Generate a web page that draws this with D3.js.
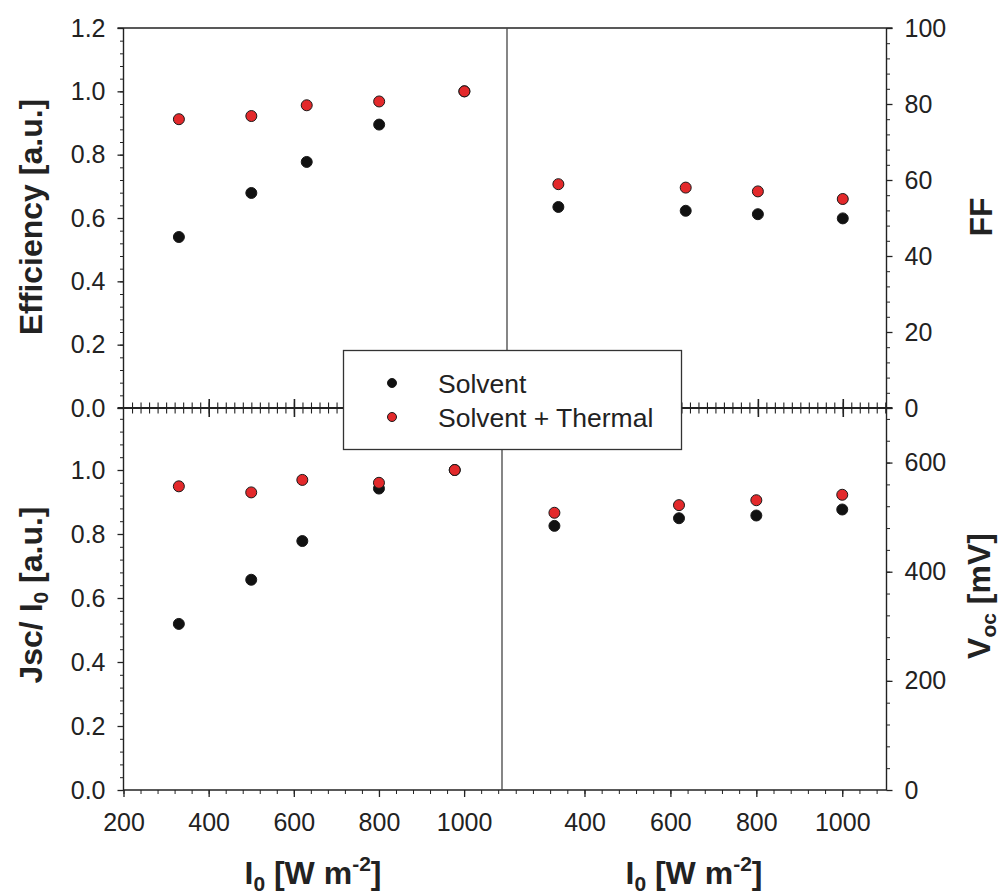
<!DOCTYPE html>
<html>
<head>
<meta charset="utf-8">
<script src="https://cdn.jsdelivr.net/npm/d3@7"></script>
<style>
  html, body { margin: 0; padding: 0; background: #fff; }
  svg { display: block; font-family: Arial, "Liberation Sans", Helvetica, sans-serif; }
</style>
</head>
<body>
<svg id="chart" width="1001" height="894"></svg>
<script>
// ---------- data ----------
const irrEff = [330, 500, 630, 800, 1000];
const effSolvent = [0.540, 0.679, 0.777, 0.895, 1.0];
const effThermal = [0.912, 0.922, 0.956, 0.968, 1.0];

const irrFF = [330, 630, 800, 1000];
const ffSolvent = [52.9, 51.9, 51.0, 49.9];
const ffThermal = [58.9, 58.0, 57.0, 55.0];

const irrJsc = [330, 500, 620, 800, 978];
const jscSolvent = [0.519, 0.657, 0.778, 0.942, 1.0];
const jscThermal = [0.949, 0.930, 0.969, 0.960, 1.0];

const irrVoc = [330, 620, 800, 1000];
const vocSolvent = [484, 498, 503, 514];
const vocThermal = [508, 522, 531, 541];

const xTickLabelsLeft = [200, 400, 600, 800, 1000];
const xTickLabelsRight = [400, 600, 800, 1000];
const effTicks = [0, 0.2, 0.4, 0.6, 0.8, 1.0, 1.2];
const jscTicks = [0, 0.2, 0.4, 0.6, 0.8, 1.0];
const ffTicks = [0, 20, 40, 60, 80, 100];
const vocTicks = [0, 200, 400, 600];
const seriesNames = ["Solvent", "Solvent + Thermal"];
const seriesColors = ["#111111", "#e3292b"];

// ---------- layout ----------
const L = 123.5, R = 886.5, T = 28, M = 408, B = 790;
const divTop = 507, divBot = 502;
const ink = "#222";
const tickFont = 25;

const svg = d3.select("#chart");

// scales
const xTL = d3.scaleLinear().domain([200, 1100]).range([L, divTop]);
const xTR = d3.scaleLinear().domain([209, 1103]).range([divTop, R]);
const xBL = d3.scaleLinear().domain([200, 1089]).range([L, divBot]);
const xBR = d3.scaleLinear().domain([208, 1103]).range([divBot, R]);
const yEff = d3.scaleLinear().domain([0, 1.2]).range([M, T]);
const yFF = d3.scaleLinear().domain([0, 100]).range([M, T]);
const yJsc = d3.scaleLinear().domain([0, 1.2]).range([B, 406]);
const yVoc = d3.scaleLinear().domain([0, 700]).range([B, M]);

function range(a, b, s) { const r = []; for (let v = a; v <= b + 1e-9; v += s) r.push(+v.toFixed(6)); return r; }

function styleAxis(g, w) {
  g.select(".domain").remove();
  g.selectAll(".tick line").attr("stroke", ink).attr("stroke-width", w || 1.2);
  g.selectAll(".tick text").attr("fill", ink).attr("font-size", tickFont)
    .attr("font-family", "Arial, 'Liberation Sans', sans-serif");
}

// ---- left y axes ----
function leftAxis(scale, majors, minorMax) {
  const gMin = svg.append("g").attr("transform", `translate(${L},0)`)
    .call(d3.axisLeft(scale).tickValues(range(0, minorMax, 0.04)).tickSize(3.5).tickFormat(""));
  styleAxis(gMin, 1);
  const g = svg.append("g").attr("transform", `translate(${L},0)`)
    .call(d3.axisLeft(scale).tickValues(majors).tickSize(6).tickPadding(12).tickFormat(d3.format(".1f")));
  styleAxis(g, 1.3);
}
leftAxis(yEff, effTicks, 1.2);
leftAxis(yJsc, jscTicks, 1.16);

// ---- right y axes ----
function rightAxis(scale, majors, minorStep, minorMax) {
  const gMin = svg.append("g").attr("transform", `translate(${R},0)`)
    .call(d3.axisRight(scale).tickValues(range(0, minorMax, minorStep)).tickSize(3.5).tickFormat(""));
  styleAxis(gMin, 1);
  const g = svg.append("g").attr("transform", `translate(${R},0)`)
    .call(d3.axisRight(scale).tickValues(majors).tickSize(6).tickPadding(12).tickFormat(d3.format("d")));
  styleAxis(g, 1.3);
}
rightAxis(yFF, ffTicks, 4, 100);
rightAxis(yVoc, vocTicks, 40, 680);

// ---- bottom x axes ----
function bottomAxis(scale, labels, lo, hi) {
  const gMin = svg.append("g").attr("transform", `translate(0,${B})`)
    .call(d3.axisBottom(scale).tickValues(range(lo, hi, 40)).tickSize(4).tickFormat(""));
  styleAxis(gMin, 1);
  const g = svg.append("g").attr("transform", `translate(0,${B})`)
    .call(d3.axisBottom(scale).tickValues(labels).tickSize(7).tickPadding(16).tickFormat(d3.format("d")));
  styleAxis(g, 1.3);
}
bottomAxis(xBL, xTickLabelsLeft, 200, 1080);
bottomAxis(xBR, xTickLabelsRight, 240, 1080);

// ---- middle crossing ticks (top panels' x axes) ----
function midAxis(scale, lo, hi) {
  [d3.axisTop, d3.axisBottom].forEach(ax => {
    const gMin = svg.append("g").attr("transform", `translate(0,${M})`)
      .call(ax(scale).tickValues(range(lo, hi, 20)).tickSize(5.5).tickFormat(""));
    styleAxis(gMin, 1.1);
    const g = svg.append("g").attr("transform", `translate(0,${M})`)
      .call(ax(scale).tickValues(range(400, 1000, 200).filter(v => v > lo && v < hi)).tickSize(9).tickFormat(""));
    styleAxis(g, 1.6);
  });
}
midAxis(xTL, 220, 1080);
midAxis(xTR, 220, 1100);

// ---- frame lines ----
const frame = svg.append("g").attr("stroke", ink).attr("fill", "none");
frame.append("line").attr("x1", L - 6).attr("x2", R + 6).attr("y1", T).attr("y2", T).attr("stroke-width", 1.3);
frame.append("line").attr("x1", L).attr("x2", L).attr("y1", T).attr("y2", B).attr("stroke-width", 1.4);
frame.append("line").attr("x1", R).attr("x2", R).attr("y1", T).attr("y2", B).attr("stroke-width", 1.4);
frame.append("line").attr("x1", L).attr("x2", R).attr("y1", B).attr("y2", B).attr("stroke-width", 1.4);
frame.append("line").attr("x1", L - 6).attr("x2", R + 6).attr("y1", M).attr("y2", M).attr("stroke-width", 2.2);
frame.append("line").attr("x1", divTop).attr("x2", divTop).attr("y1", T).attr("y2", M).attr("stroke-width", 1.3).attr("stroke", "#444");
frame.append("line").attr("x1", divBot).attr("x2", divBot).attr("y1", M).attr("y2", B).attr("stroke-width", 1.3).attr("stroke", "#444");

// ---- points ----
function points(xs, ys, xScale, yScale, color) {
  svg.append("g").selectAll("circle").data(xs.map((x, i) => [x, ys[i]])).join("circle")
    .attr("cx", d => xScale(d[0])).attr("cy", d => yScale(d[1])).attr("r", 5.5)
    .attr("fill", color).attr("stroke", "#1a1a1a").attr("stroke-width", 1);
}
points(irrEff, effSolvent, xTL, yEff, seriesColors[0]);
points(irrEff, effThermal, xTL, yEff, seriesColors[1]);
points(irrFF, ffSolvent, xTR, yFF, seriesColors[0]);
points(irrFF, ffThermal, xTR, yFF, seriesColors[1]);
points(irrJsc, jscSolvent, xBL, yJsc, seriesColors[0]);
points(irrJsc, jscThermal, xBL, yJsc, seriesColors[1]);
points(irrVoc, vocSolvent, xBR, yVoc, seriesColors[0]);
points(irrVoc, vocThermal, xBR, yVoc, seriesColors[1]);

// ---- axis titles ----
const titleFont = 32;
const subFont = 21;
function xTitle(cx) {
  const t = svg.append("text").attr("x", cx).attr("y", 884).attr("text-anchor", "middle")
    .attr("font-size", titleFont).attr("font-weight", "bold").attr("fill", ink);
  t.append("tspan").text("I");
  t.append("tspan").attr("font-size", subFont).attr("dy", 7).text("0");
  t.append("tspan").attr("dy", -7).text(" [W m");
  t.append("tspan").attr("font-size", subFont).attr("dy", -13).text("-2");
  t.append("tspan").attr("dy", 13).text("]");
}
xTitle(313);
xTitle(694);

function yTitle(x, cy, parts) {
  const t = svg.append("text").attr("transform", `translate(${x},${cy}) rotate(-90)`)
    .attr("text-anchor", "middle").attr("font-size", titleFont).attr("font-weight", "bold").attr("fill", ink);
  parts.forEach(p => {
    const s = t.append("tspan").text(p.t);
    if (p.sub) s.attr("font-size", subFont).attr("dy", 6);
    if (p.back) s.attr("dy", -6);
  });
}
yTitle(42, 217, [{ t: "Efficiency [a.u.]" }]);
yTitle(42, 595, [{ t: "Jsc/ I" }, { t: "0", sub: true }, { t: " [a.u.]", back: true }]);
yTitle(992, 217, [{ t: "FF" }]);
yTitle(990, 596, [{ t: "V" }, { t: "oc", sub: true }, { t: " [mV]", back: true }]);

// ---- legend ----
const lg = svg.append("g");
lg.append("rect").attr("x", 343.5).attr("y", 350.5).attr("width", 338).attr("height", 99)
  .attr("fill", "#fff").attr("stroke", "#333").attr("stroke-width", 1.3);
const legY = d3.scalePoint().domain(seriesNames).range([383, 417]);
seriesNames.forEach((n, i) => {
  lg.append("circle").attr("cx", 392).attr("cy", legY(n)).attr("r", 4.5)
    .attr("fill", seriesColors[i]).attr("stroke", "#1a1a1a").attr("stroke-width", 1);
  lg.append("text").attr("x", 438).attr("y", legY(n) + 9.5).attr("font-size", 26.5)
    .attr("fill", ink).text(n);
});
</script>
</body>
</html>
